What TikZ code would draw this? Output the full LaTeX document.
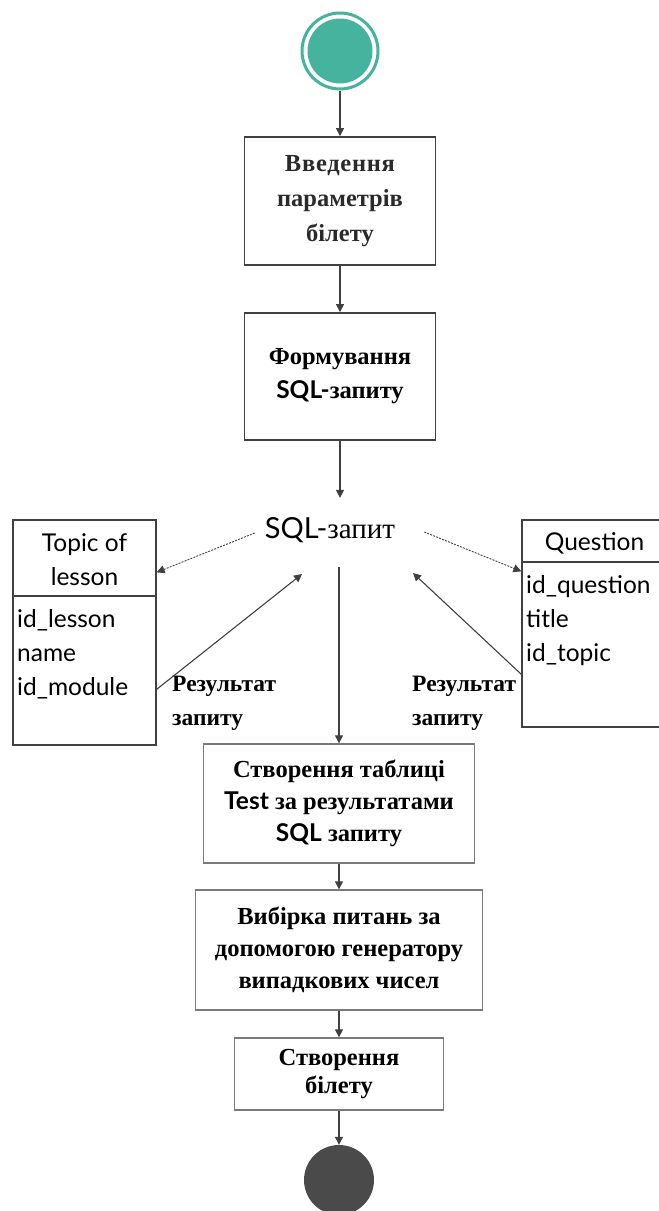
\documentclass[tikz,border=0pt]{standalone}
\usepackage{fontspec}
\setmainfont{Liberation Serif}
\newfontfamily\lato{Lato}
\usetikzlibrary{arrows.meta,calc}
\definecolor{tealc}{HTML}{45B39D}
\definecolor{ln}{HTML}{404040}
\definecolor{lg}{HTML}{7A7A7A}
\definecolor{endc}{HTML}{4A4A4A}
\definecolor{txt}{HTML}{2A2A2A}
\tikzset{
  arr/.style={draw=ln, line width=1.1pt, -{Triangle[length=8pt,width=8pt]}},
  darr/.style={arr, dashed, dash pattern=on 2pt off 1.2pt, line width=0.9pt},
  boxA/.style={draw=ln, line width=1.8pt, align=center, inner sep=0pt, text=txt,
    font=\bfseries\fontsize{24.5}{35}\selectfont},
  boxB/.style={draw=lg, line width=1.3pt, align=center, inner sep=0pt,
    font=\bfseries\fontsize{24.5}{32}\selectfont},
  tbl/.style={draw=ln, line width=1.3pt, inner sep=0pt},
  ttxt/.style={font=\lato\fontsize{24.5}{34}\selectfont, inner sep=0pt, anchor=base west},
  lbl/.style={font=\bfseries\fontsize{23.5}{34}\selectfont, align=left, inner sep=0pt, anchor=north west}
}
\begin{document}
\begin{tikzpicture}[x=1pt,y=-1pt]
\useasboundingbox (0,0) rectangle (659,1211);
% start
\node (start) [circle, draw=tealc, line width=3pt, fill=white, minimum size=76pt, inner sep=0pt] at (340,51) {};
\node (startin) [circle, fill=tealc, minimum size=65pt, inner sep=0pt] at (340,51) {};
% boxes
\node (b1) [boxA, minimum width=191pt, minimum height=128pt] at (340,201) {{\addfontfeature{LetterSpace=3}Введення}\\параметрів\\білету};
\node (b2) [boxA, minimum width=191pt, minimum height=127pt, text=black, font=\bfseries\fontsize{24.5}{34}\selectfont] at (340,376.5) {Формування\\{\lato SQL-}запиту};
\node (sql) [inner sep=0pt, font=\fontsize{29}{32}\selectfont] at (330,530) {{\lato SQL-}запит};
\node (b3) [boxB, minimum width=271pt, minimum height=119pt] at (339,803.5) {Створення таблиці\\{\lato Test} за результатами\\{\lato SQL} запиту};
\node (b4) [boxB, minimum width=287pt, minimum height=120pt] at (339,950) {Вибірка питань за\\допомогою генератору\\випадкових чисел};
\node (b5) [boxB, minimum width=209pt, minimum height=72pt, font=\bfseries\fontsize{24.5}{28}\selectfont] at (339,1074) {Створення\\білету};
\node (end) [circle, fill=endc, minimum size=70pt, inner sep=0pt] at (339,1180) {};
% tables
\node (topic) [tbl, minimum width=143pt, minimum height=225pt] at (84.5,632.5) {};
\draw [ln, line width=1.3pt] (topic.west |- 0,596) -- (topic.east |- 0,596);
\node (tTitle) [font=\lato\fontsize{24.5}{34}\selectfont, align=center, inner sep=0pt] at (84.5,560) {Topic of\\lesson};
\node (tA) [ttxt] at (17,627) {id\_lesson};
\node (tB) [ttxt] at (17,661) {name};
\node (tC) [ttxt] at (17,695) {id\_module};
\node (quest) [tbl, minimum width=142pt, minimum height=207pt] at (593,623.5) {};
\draw [ln, line width=1.3pt] (quest.west |- 0,562) -- (quest.east |- 0,562);
\node (qTitle) [font=\lato\fontsize{24.5}{34}\selectfont, inner sep=0pt] at (594.5,543) {Question};
\node (qA) [ttxt] at (526,593) {id\_question};
\node (qB) [ttxt] at (526,627) {title};
\node (qC) [ttxt] at (526,661) {id\_topic};
% labels
\node (l1) [lbl] at (172,676) {Результат\\запиту};
\node (l2) [lbl] at (412,676) {Результат\\запиту};
% connectors
\draw [arr] (start.south) -- (b1.north);
\draw [arr] (b1.south) -- (b2.north);
\draw [arr] (b2.south) -- ($(b2.south)+(0,57)$);
\draw [darr] ($(sql.west)+(-10,3)$) -- ($(topic.north east)+(0,53)$);
\draw [darr] ($(sql.east)+(29,2)$) -- ($(quest.north west)+(0,52)$);
\draw [arr] ($(topic.north east)+(0,170)$) -- ($(sql.center)+(-28,44)$);
\draw [arr] ($(quest.north west)+(0,155)$) -- ($(sql.center)+(83,43)$);
\draw [arr] (b3.north |- 0,567) -- (b3.north);
\draw [arr] (b3.south) -- (b4.north);
\draw [arr] (b4.south) -- (b5.north);
\draw [arr] (b5.south) -- (end.north);
\end{tikzpicture}
\end{document}
